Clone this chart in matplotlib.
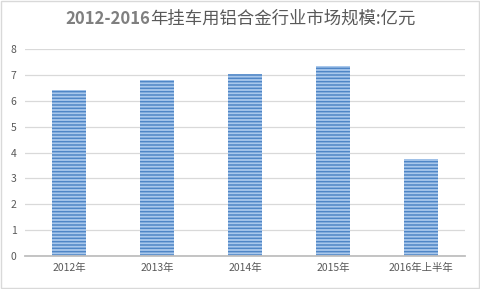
import matplotlib.pyplot as plt
from matplotlib.patches import Rectangle

plt.rcParams['font.family'] = ['Noto Sans CJK SC', 'DejaVu Sans']
plt.rcParams['hatch.linewidth'] = 1.1

# 数据
categories = ["2012年", "2013年", "2014年", "2015年", "2016年上半年"]
values = [6.43, 6.82, 7.05, 7.33, 3.74]
yticks = [0, 1, 2, 3, 4, 5, 6, 7, 8]
title_head = "2012-2016"
title_tail = "年挂车用铝合金行业市场规模:亿元"

fig = plt.figure(figsize=(4.81, 2.89), dpi=100)
ax = fig.add_axes([0.052, 0.114, 0.915, 0.716])

x = range(len(categories))
ax.bar(x, values, width=0.39, color="#a9c8ec", edgecolor="#4f86c6",
       hatch="-----", linewidth=0)

ax.set_ylim(0, 8)
ax.set_xlim(-0.5, len(categories) - 0.5)
ax.set_yticks(yticks)
ax.set_xticks(list(x))
ax.set_xticklabels(categories)
ax.tick_params(axis="both", length=0, labelsize=7.5, colors="#595959")
ax.tick_params(axis="y", pad=6)
ax.tick_params(axis="x", pad=5)

ax.grid(axis="y", color="#d9d9d9", linewidth=0.9)
ax.set_axisbelow(True)
for side in ["top", "right", "left"]:
    ax.spines[side].set_visible(False)
ax.spines["bottom"].set_color("#bfbfbf")
ax.spines["bottom"].set_linewidth(1.3)

# 标题：数字部分加粗，中文部分常规
t1 = fig.text(0, 0.935, title_head, ha="left", va="center", fontsize=12,
              color="#7f7f7f", fontweight="bold")
t2 = fig.text(0, 0.935, title_tail, ha="left", va="center", fontsize=12.5,
              color="#595959")
renderer = fig.canvas.get_renderer()
w1 = t1.get_window_extent(renderer).width
w2 = t2.get_window_extent(renderer).width
fig_w = fig.get_figwidth() * fig.dpi
start = (fig_w - w1 - w2) / 2
t1.set_x(start / fig_w)
t2.set_x((start + w1) / fig_w)

# 外框
fig.patches.append(Rectangle((0.002, 0.003), 0.994, 0.992, transform=fig.transFigure,
                             fill=False, edgecolor="#d9d9d9", linewidth=1))

fig.savefig("out.png", dpi=100)
